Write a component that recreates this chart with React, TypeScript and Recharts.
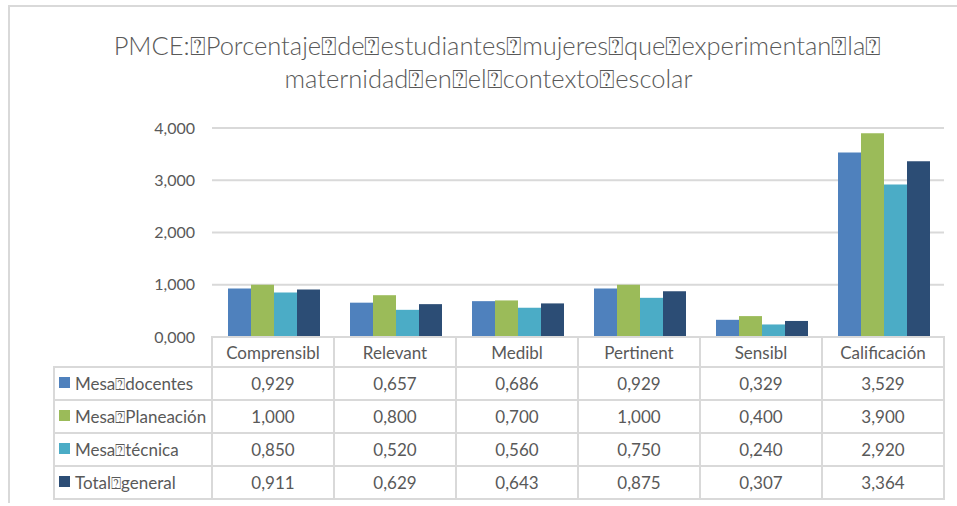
import React from "react";
import { BarChart, Bar, XAxis, YAxis, CartesianGrid } from "recharts";

const categories = ["Comprensibl", "Relevant", "Medibl", "Pertinent", "Sensibl", "Calificación"];
const seriesNames = ["Mesa⍰docentes", "Mesa⍰Planeación", "Mesa⍰técnica", "Total⍰general"];
const mesaDocentes = [0.929, 0.657, 0.686, 0.929, 0.329, 3.529];
const mesaPlaneacion = [1.0, 0.8, 0.7, 1.0, 0.4, 3.9];
const mesaTecnica = [0.85, 0.52, 0.56, 0.75, 0.24, 2.92];
const totalGeneral = [0.911, 0.629, 0.643, 0.875, 0.307, 3.364];
const yTicks = [0, 1, 2, 3, 4];
const titleLines = [
  "PMCE:⍰Porcentaje⍰de⍰estudiantes⍰mujeres⍰que⍰experimentan⍰la⍰",
  "maternidad⍰en⍰el⍰contexto⍰escolar",
];

const colors = ["#4F81BD", "#9BBB59", "#4BACC6", "#2C4D75"];
const series = [mesaDocentes, mesaPlaneacion, mesaTecnica, totalGeneral];
const keys = ["s0", "s1", "s2", "s3"];

const data = categories.map((name, i) => {
  const row: any = { name };
  series.forEach((s, j) => (row[keys[j]] = s[i]));
  return row;
});

const fmt = (v: number) => v.toFixed(3).replace(".", ",");

const font = "Lato, 'Open Sans', sans-serif";
const textColor = "#595959";
const line = "2px solid #d9d9d9";

export default function App() {
  return (
    <div style={{ position: "absolute", left: 0, top: 0, width: 957, height: 506, background: "#fff", fontFamily: font, overflow: "hidden" }}>
      <div style={{ position: "absolute", left: 8, top: 5, width: 960, height: 496, borderTop: line, borderLeft: line }} />
      {titleLines.map((t, i) => (
        <div
          key={i}
          style={{ position: "absolute", left: i === 0 ? 0 : -9, width: 995, top: 30 + i * 33, textAlign: "center", fontSize: 25.5, fontWeight: 300, color: textColor, lineHeight: "30px", whiteSpace: "nowrap" }}
        >
          {t}
        </div>
      ))}
      <div style={{ position: "absolute", left: 0, top: 0 }}>
        <BarChart
          width={957}
          height={506}
          data={data}
          margin={{ top: 128, right: 13, bottom: 169, left: 152 }}
          barCategoryGap={16}
          barGap={0}
        >
          <CartesianGrid vertical={false} stroke="#d9d9d9" strokeWidth={2} />
          <XAxis dataKey="name" hide />
          <YAxis
            width={60}
            domain={[0, 4]}
            ticks={yTicks}
            tickFormatter={fmt}
            axisLine={false}
            tickLine={false}
            tickSize={0}
            tickMargin={17}
            tick={{ fill: textColor, fontSize: 16, fontFamily: font }}
          />
          {keys.map((k, j) => (
            <Bar key={k} dataKey={k} fill={colors[j]} isAnimationActive={false} />
          ))}
        </BarChart>
      </div>
      <table
        style={{
          position: "absolute",
          left: 53,
          top: 336,
          borderCollapse: "collapse",
          fontFamily: font,
          fontSize: 17,
          color: textColor,
          tableLayout: "fixed",
        }}
      >
        <tbody>
          <tr style={{ height: 30 }}>
            <td style={{ width: 157, padding: 0 }} />
            {categories.map((c) => (
              <td key={c} style={{ width: 120, border: line, textAlign: "center", padding: 0, whiteSpace: "nowrap" }}>
                {c}
              </td>
            ))}
          </tr>
          {seriesNames.map((n, j) => (
            <tr key={n} style={{ height: 33 }}>
              <td style={{ border: line, padding: "0 0 0 4px", whiteSpace: "nowrap", overflow: "hidden" }}>
                <span style={{ display: "inline-block", width: 11, height: 11, background: colors[j], marginRight: 5, verticalAlign: 2 }} />
                {n}
              </td>
              {series[j].map((v, i) => (
                <td key={i} style={{ border: line, textAlign: "center", padding: 0 }}>
                  {fmt(v)}
                </td>
              ))}
            </tr>
          ))}
        </tbody>
      </table>
    </div>
  );
}
